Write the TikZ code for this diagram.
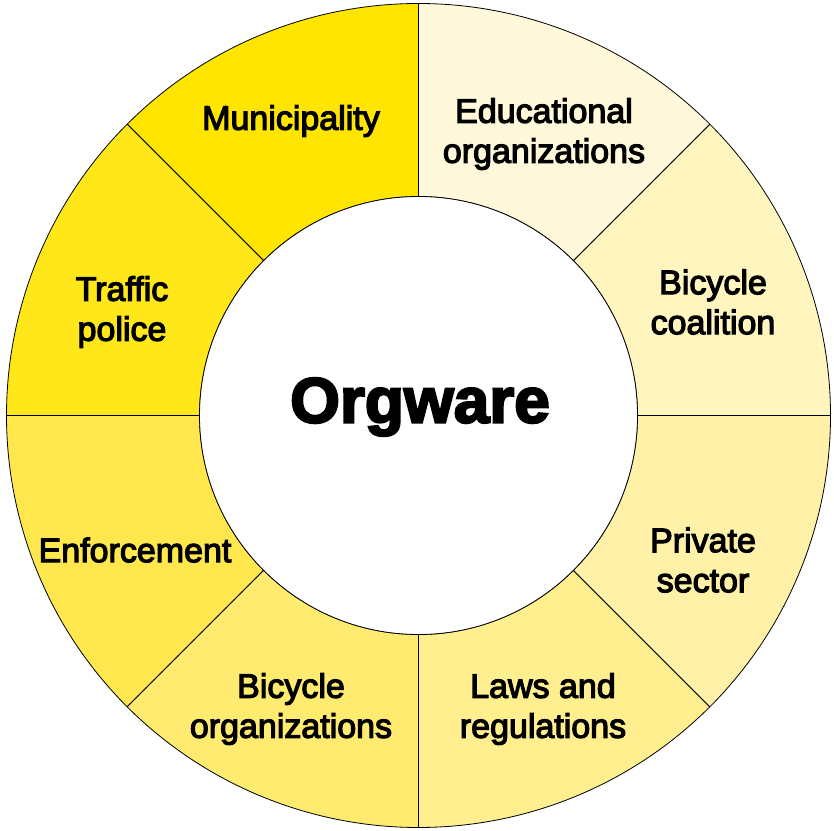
\documentclass[tikz,border=0pt]{standalone}
\usepackage{fontspec}
\setmainfont{Liberation Sans}
\newfontfamily\labfont[FakeBold=3.5]{Liberation Sans}
\newfontfamily\bigfont[FakeBold=3.5]{Liberation Sans Bold}
\definecolor{cMun}{HTML}{FFE500}
\definecolor{cTra}{HTML}{FFE71A}
\definecolor{cEnf}{HTML}{FFE74D}
\definecolor{cBor}{HTML}{FFEB70}
\definecolor{cLaw}{HTML}{FFEF8E}
\definecolor{cPri}{HTML}{FFF2A8}
\definecolor{cBco}{HTML}{FFF5BF}
\definecolor{cEdu}{HTML}{FFF8DA}
\tikzset{
  seg/.style={draw=black, line width=0.8pt, line join=round},
  lab/.style={align=center, font=\labfont\fontsize{34}{40}\selectfont, inner sep=0pt},
}
\begin{document}
\begin{tikzpicture}[x=1pt,y=1pt]
\useasboundingbox (0,0) rectangle (834,830);
\begin{scope}[shift={(418.5,414.5)}]
\def\Ro{412}\def\Ri{219}
\foreach \a/\b/\c in {90/135/cMun,135/180/cTra,180/225/cEnf,225/270/cBor,270/315/cLaw,315/360/cPri,0/45/cBco,45/90/cEdu}{
  \filldraw[seg, fill=\c] (\a:\Ro) arc[start angle=\a, end angle=\b, radius=\Ro] -- (\b:\Ri) arc[start angle=\b, end angle=\a, radius=\Ri] -- cycle;
}
\node[circle, draw=black, line width=0.8pt, fill=white, minimum size=438pt, inner sep=0pt] (hub) at (0,0) {};
\end{scope}
\node[font=\bigfont\fontsize{64}{70}\selectfont, inner sep=0pt] (org) at (420,830-407) {Orgware};
\node[lab] (mun) at (291,830-121) {Municipality};
\node[lab] (edu) at (544,830-134) {Educational\\organizations};
\node[lab] (bco) at (713,830-302) {Bicycle\\coalition};
\node[lab] (pri) at (703,830-560) {Private\\sector};
\node[lab] (law) at (543,830-709) {Laws and\\regulations};
\node[lab] (bor) at (291,830-709) {Bicycle\\organizations};
\node[lab] (enf) at (135,830-550) {Enforcement};
\node[lab] (tra) at (122,830-312) {Traffic\\police};
\end{tikzpicture}
\end{document}
